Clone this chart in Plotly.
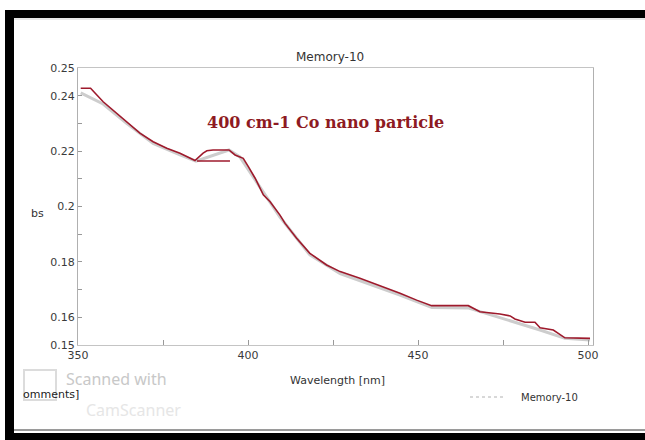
import plotly.graph_objects as go

# Red (annotated) trace, wavelength [nm] vs absorbance
red_wl = [350.8, 353.7, 357.4, 360.3, 364.3, 368.2, 372.1, 376.1, 380.0, 384.4,
          386.8, 387.9, 389.7, 394.4, 396.2, 398.6, 400.1, 402.1, 404.5, 406.5,
          409.4, 410.9, 414.3, 418.2, 423.1, 427.1, 432.9, 438.8, 444.7, 449.6,
          454.0, 464.8, 468.2, 474.1, 477.1, 478.5, 481.5, 484.4, 485.9, 489.8,
          491.8, 493.2, 500.6]
red_abs = [0.2427, 0.2427, 0.2378, 0.2348, 0.2306, 0.2265, 0.2234, 0.2210, 0.2192, 0.2166,
           0.2193, 0.2201, 0.2204, 0.2204, 0.2186, 0.2174, 0.2144, 0.2102, 0.2042, 0.2017,
           0.1969, 0.1939, 0.1885, 0.1831, 0.1789, 0.1765, 0.1741, 0.1715, 0.1687, 0.1662,
           0.1642, 0.1642, 0.1620, 0.1612, 0.1605, 0.1594, 0.1582, 0.1582, 0.1562, 0.1554,
           0.1536, 0.1526, 0.1524]
# short stray red stroke under the bump
stroke_wl = [385.0, 394.7]
stroke_abs = [0.2164, 0.2164]

# Grey printed spectrum "Memory-10"
grey_wl = [350.8, 357.4, 364.3, 372.1, 380.0, 384.7, 394.4, 397.6, 402.1, 409.4,
           418.2, 427.1, 444.7, 454.1, 464.7, 474.1, 485.9, 493.2, 500.6]
grey_abs = [0.2410, 0.2370, 0.2300, 0.2228, 0.2186, 0.2164, 0.2204, 0.2179, 0.2096, 0.1962,
            0.1825, 0.1758, 0.1680, 0.1635, 0.1634, 0.1599, 0.1554, 0.1524, 0.1518]

y_ticks = [0.15, 0.16, 0.17, 0.18, 0.19, 0.20, 0.21, 0.22, 0.23, 0.24, 0.25]
y_ticktext = ["0.15", "0.16", "", "0.18", "", "0.2", "", "0.22", "", "0.24", "0.25"]
x_ticks = [350, 375, 400, 425, 450, 475, 500]
x_ticktext = ["350", "", "400", "", "450", "", "500"]

L, R, T, B = 78, 593, 68, 345
W, H = 645, 440


def px(x):
    return (x - L) / (R - L)


def py(y):
    return (B - y) / (B - T)


fig = go.Figure()
fig.add_trace(go.Scatter(x=grey_wl, y=grey_abs, mode="lines",
                         line=dict(color="#cdcdcd", width=3), showlegend=False))
fig.add_trace(go.Scatter(x=red_wl, y=red_abs, mode="lines",
                         line=dict(color="#9e1a2c", width=1.6), showlegend=False))
fig.add_trace(go.Scatter(x=stroke_wl, y=stroke_abs, mode="lines",
                         line=dict(color="#9e1a2c", width=1.6), showlegend=False))

font = "DejaVu Sans, Arial, sans-serif"
fig.update_layout(
    width=W, height=H,
    margin=dict(l=L, r=W - R, t=T, b=H - B),
    paper_bgcolor="white", plot_bgcolor="white",
    showlegend=False,
    font=dict(family=font, size=11, color="#333"),
    xaxis=dict(range=[350, 350 + (R - L) / 3.4], tickvals=x_ticks, ticktext=x_ticktext,
               ticks="inside", ticklen=5, tickcolor="#999", showgrid=False, zeroline=False,
               showline=True, linecolor="#c4c4c4", linewidth=1, mirror=True,
               tickfont=dict(size=11, color="#3a3a3a")),
    yaxis=dict(range=[0.15, 0.25], tickvals=y_ticks, ticktext=y_ticktext,
               ticks="inside", ticklen=4, tickcolor="#999", showgrid=False, zeroline=False,
               showline=True, linecolor="#b0b0b0", linewidth=1, mirror=True,
               tickfont=dict(size=11, color="#3a3a3a")),
)

ann = [
    dict(text="Memory-10", x=px(330), y=py(57), size=12, color="#333", fam=font, bold=False, xa="center"),
    dict(text="400 cm-1 Co nano particle", x=px(325), y=py(122), size=16, color="#8e1a22",
         fam="DejaVu Serif, Liberation Serif, serif", bold=True, xa="center"),
    dict(text="Wavelength [nm]", x=px(337), y=py(380), size=11, color="#333", fam=font, bold=False, xa="center"),
    dict(text="bs", x=px(46), y=py(214), size=11, color="#333", fam=font, bold=False, xa="right"),
    dict(text="omments]", x=px(21), y=py(394), size=11, color="#222", fam=font, bold=False, xa="left"),
    dict(text="Scanned with", x=px(64), y=py(379), size=16, color="#c8c8c8", fam="Noto Sans, sans-serif", bold=False, xa="left"),
    dict(text="CamScanner", x=px(84), y=py(410), size=16, color="#e6e6e6", fam="Noto Sans, sans-serif", bold=False, xa="left"),
    dict(text="Memory-10", x=px(519), y=py(397), size=10, color="#333", fam=font, bold=False, xa="left"),
]
for a in ann:
    t = "<b>%s</b>" % a["text"] if a["bold"] else a["text"]
    fig.add_annotation(text=t, x=a["x"], y=a["y"], xref="paper", yref="paper",
                       xanchor=a["xa"], yanchor="middle", showarrow=False,
                       font=dict(size=a["size"], color=a["color"], family=a["fam"]))

shapes = [
    # black scan border
    dict(type="rect", x0=px(6), x1=px(646), y0=py(10), y1=py(18), fillcolor="black", line=dict(color="black", width=0)),
    dict(type="rect", x0=px(5), x1=px(14), y0=py(10), y1=py(441), fillcolor="black", line=dict(color="black", width=0)),
    dict(type="rect", x0=px(5), x1=px(646), y0=py(433), y1=py(441), fillcolor="black", line=dict(color="black", width=0)),
    dict(type="line", x0=px(14), x1=px(646), y0=py(430), y1=py(430), line=dict(color="#9a9a9a", width=2)),
    dict(type="line", x0=px(14), x1=px(646), y0=py(19), y1=py(19), line=dict(color="#cfcfcf", width=1)),
    # scanner icon
    dict(type="rect", x0=px(24), x1=px(56), y0=py(370), y1=py(400), line=dict(color="#dcdcdc", width=2)),
    # legend sample line
    dict(type="line", x0=px(470), x1=px(506), y0=py(397), y1=py(397), line=dict(color="#cccccc", width=1.5, dash="dot")),
]
for s in shapes:
    fig.add_shape(xref="paper", yref="paper", layer="above", **s)

fig.write_html("out.html", config={"displayModeBar": False},
               post_script=("var st=document.createElement('style');"
                            "st.textContent='html,body{margin:0;padding:0;overflow:hidden;background:white}"
                            "::-webkit-scrollbar{display:none;width:0;height:0}';"
                            "document.head.appendChild(st);"))
